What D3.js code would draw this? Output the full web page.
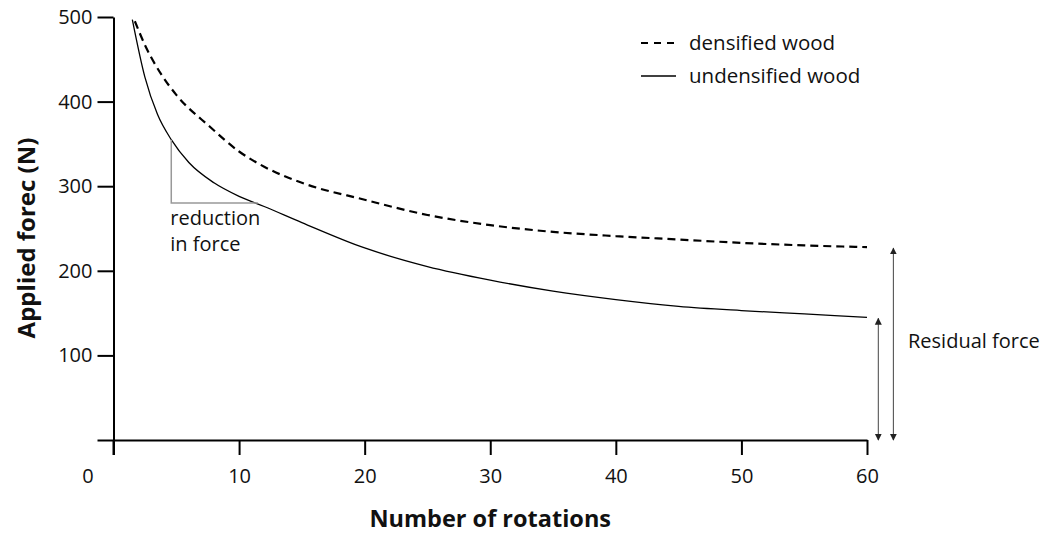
<!DOCTYPE html>
<html><head><meta charset="utf-8">
<script src="https://cdn.jsdelivr.net/npm/d3@7"></script>
<style>body{margin:0;background:#fff} svg{display:block}</style>
</head><body>
<svg id="c" width="1045" height="535"></svg>
<script>
// ---- data ----
const densRot = [1.7, 2.5, 3.9, 5, 7.7, 10, 12, 15, 20, 25, 30, 35, 40, 45, 50, 55, 60];
const densForce = [495, 467, 430, 408, 370, 341, 323, 304, 284, 266, 254, 246, 241, 237, 233, 230, 228];
const undRot = [1.5, 2.5, 3.5, 4.6, 6, 8, 10, 12, 15, 20, 25, 30, 35, 40, 45, 50, 55, 60];
const undForce = [497, 429, 385, 355, 328, 304, 288, 276, 257, 227, 205, 189, 176, 166, 158, 153, 149, 145];
const xTicks = [0, 10, 20, 30, 40, 50, 60];
const yTicks = [0, 100, 200, 300, 400, 500];
const seriesNames = ["densified wood", "undensified wood"];
const reductionText = ["reduction", "in force"];
const reductionX = [4.6, 11.5];
const reductionY = [355, 280];
const residualText = "Residual force";
const residualX = [60.9, 62.1];
const xTitle = "Number of rotations";
const yTitle = "Applied forec (N)";

// ---- layout ----
const FONT = "'Open Sans', 'Noto Sans', sans-serif";
const svg = d3.select("#c");
const x = d3.scaleLinear().domain([0, 60]).range([113.5, 867]);
const y = d3.scaleLinear().domain([0, 500]).range([440, 17]);

// axes
const gx = svg.append("g").attr("transform", `translate(0,${y(0)})`)
  .call(d3.axisBottom(x).tickValues(xTicks).tickSize(15).tickSizeOuter(0).tickPadding(14).tickFormat(d3.format("d")));
const gy = svg.append("g").attr("transform", `translate(${x(0)},0)`)
  .call(d3.axisLeft(y).tickValues(yTicks).tickSize(16).tickSizeOuter(0).tickPadding(5).tickFormat(d => d === 0 ? "" : d));
[gx, gy].forEach(g => {
  g.select(".domain").attr("stroke", "#000").attr("stroke-width", 2);
  g.selectAll(".tick line").attr("stroke", "#000").attr("stroke-width", 2);
  g.selectAll(".tick text").attr("fill", "#111").style("font-family", FONT).style("font-size", "20px");
});
gx.selectAll(".tick text").filter(d => d === 0).attr("dx", -26);
// y axis extends slightly below x axis
svg.append("line").attr("x1", x(0)).attr("x2", x(0)).attr("y1", y(0)).attr("y2", y(0) + 15)
  .attr("stroke", "#000").attr("stroke-width", 2);

// titles
svg.append("text").attr("x", (x(0) + x(60)) / 2).attr("y", 527).attr("text-anchor", "middle")
  .style("font-family", FONT).style("font-weight", "bold").style("font-size", "23.5px").attr("fill", "#111").text(xTitle);
svg.append("text").attr("transform", `translate(35,${238}) rotate(-90)`).attr("text-anchor", "middle")
  .style("font-family", FONT).style("font-weight", "bold").style("font-size", "24px").attr("fill", "#111").text(yTitle);

// lines
const line = d3.line().x(d => x(d[0])).y(d => y(d[1])).curve(d3.curveMonotoneX);
svg.append("path").datum(d3.zip(densRot, densForce)).attr("d", line)
  .attr("fill", "none").attr("stroke", "#000").attr("stroke-width", 2.2).attr("stroke-dasharray", "8,5");
svg.append("path").datum(d3.zip(undRot, undForce)).attr("d", line)
  .attr("fill", "none").attr("stroke", "#000").attr("stroke-width", 1.3);

// reduction annotation
svg.append("path")
  .attr("d", `M${x(reductionX[0])},${y(reductionY[0])}V${y(reductionY[1])}H${x(reductionX[1])}`)
  .attr("fill", "none").attr("stroke", "#999").attr("stroke-width", 1.5);
reductionText.forEach((t, i) => {
  svg.append("text").attr("x", x(reductionX[0]) - 1).attr("y", 225 + i * 26)
    .style("font-family", FONT).style("font-size", "20px").attr("fill", "#111").text(t);
});

// legend
const legY = [43, 76];
seriesNames.forEach((n, i) => {
  svg.append("line").attr("x1", 641).attr("x2", 676).attr("y1", legY[i]).attr("y2", legY[i])
    .attr("stroke", "#000").attr("stroke-width", i === 0 ? 2 : 1.3)
    .attr("stroke-dasharray", i === 0 ? "7,6" : null);
  svg.append("text").attr("x", 689).attr("y", legY[i] + 7)
    .style("font-family", FONT).style("font-size", "20.5px").attr("fill", "#111").text(n);
});

// residual force arrows
const defs = svg.append("defs");
defs.append("marker").attr("id", "ah").attr("viewBox", "0 0 10 10").attr("refX", 9).attr("refY", 5)
  .attr("markerWidth", 7).attr("markerHeight", 9).attr("markerUnits", "userSpaceOnUse").attr("orient", "auto-start-reverse")
  .append("path").attr("d", "M0,0L10,5L0,10Z").attr("fill", "#222");
const ends = [undForce[undForce.length - 1], densForce[densForce.length - 1]];
residualX.forEach((rx, i) => {
  svg.append("line").attr("x1", x(rx)).attr("x2", x(rx)).attr("y1", y(ends[i]) + 1).attr("y2", y(0))
    .attr("stroke", "#444").attr("stroke-width", 1)
    .attr("marker-start", "url(#ah)").attr("marker-end", "url(#ah)");
});
svg.append("text").attr("x", 908).attr("y", 348)
  .style("font-family", FONT).style("font-size", "20px").attr("fill", "#111").text(residualText);
</script>
</body></html>
